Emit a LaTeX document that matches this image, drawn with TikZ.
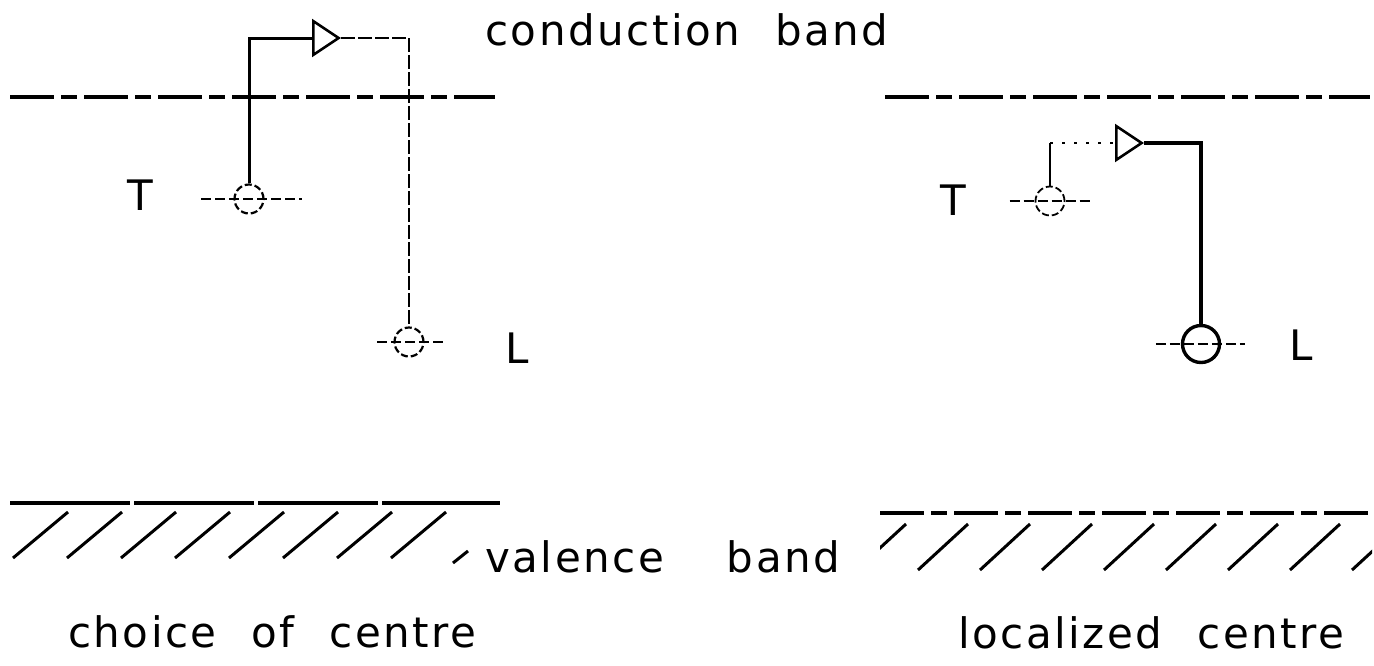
\documentclass[tikz,border=0pt]{standalone}
\usepackage{fontspec}
\newfontfamily\hand[LetterSpace=6, WordSpace=2.2]{DejaVu Sans}
\usetikzlibrary{arrows.meta, positioning}
\tikzset{
  band/.style   ={line width=3.2pt, dash pattern=on 44pt off 7pt on 16pt off 7pt},
  hatch/.style  ={line width=3pt},
  lvl/.style    ={draw, circle, minimum size=29pt, inner sep=0pt, line width=2.2pt,
                  dash pattern=on 7pt off 3pt},
  tick/.style   ={line width=2.2pt, dash pattern=on 10pt off 4pt},
  lbl/.style    ={font=\hand\fontsize{42}{46}\selectfont, inner sep=0pt},
  hop/.style    ={line width=3pt},
  faint/.style  ={line width=1.8pt, dash pattern=on 14pt off 3pt},
  opentip/.style={-{Triangle[open, length=29pt, width=38pt, line width=2.6pt]}},
}

\begin{document}
\begin{tikzpicture}[x=1pt, y=-1pt]
  \useasboundingbox (0,0) rectangle (1374,665);

  % bands, choice of centre
  \draw[band] (10,97) -- (495,97);
  \draw[band, dash pattern=on 120pt off 4pt] (10,503) -- (500,503);
  \foreach \x in {13,67,...,400}
    \draw[hatch] (\x,558) -- ++(55,-46);
  \draw[hatch] (453,563) -- (468,551);

  % bands, localized centre
  \draw[band] (885,97) -- (1370,97);
  \draw[band] (880,513) -- (1370,513);
  \begin{scope}
    \clip (880,515) rectangle (1372,580);
    \foreach \x in {856,918,...,1360}
      \draw[hatch] (\x,570) -- ++(50,-46);
  \end{scope}

  % levels, choice of centre
  \node[lvl] (tl) at (249,199) {};
  \node[lvl] (ll) at (409,342) {};
  \node[lbl] (tlab) at (140,195) {T};
  \node[lbl] (llab) at (517,348) {L};
  \draw[tick] ([xshift=-32pt]tl.west) -- ([xshift=37pt]tl.east);
  \draw[tick] ([xshift=-16pt]ll.west) -- ([xshift=19pt]ll.east);
  \coordinate (lta) at (341,38);
  \draw[hop, opentip] (tl.north) |- (lta);
  \draw[faint] (lta) -| (ll.north);

  % levels, localized centre
  \node[lvl, line width=1.8pt] (tr) at (1050,201) {};
  \node[lvl, solid, line width=3.4pt, minimum size=37pt] (lr) at (1201,344) {};
  \node[lbl] (trlab) at (953,200) {T};
  \node[lbl] (lrlab) at (1301,345) {L};
  \draw[tick] ([xshift=-25pt]tr.west) -- ([xshift=25pt]tr.east);
  \draw[tick] ([xshift=-25pt]lr.west) -- ([xshift=24pt]lr.east);
  \coordinate (rta) at (1144,143);
  \draw[line width=2pt] (tr.north) -- (tr.north |- rta) coordinate (rtc);
  \draw[line width=2.2pt, dash pattern=on 3pt off 9pt, opentip] (rtc) -- (rta);
  \draw[hop, line width=3.4pt] (rta) -| (lr.north);

  % captions
  \node[lbl, anchor=base west] (cb) at (485,45) {conduction band};
  \node[lbl, anchor=base west] (vb) at (485,572) {valence\hspace{28pt} band};
  \node[lbl, anchor=base west] (cc) at (68,647) {choice of centre};
  \node[lbl, anchor=base west] (lc) at (958,648) {localized centre};
\end{tikzpicture}
\end{document}
